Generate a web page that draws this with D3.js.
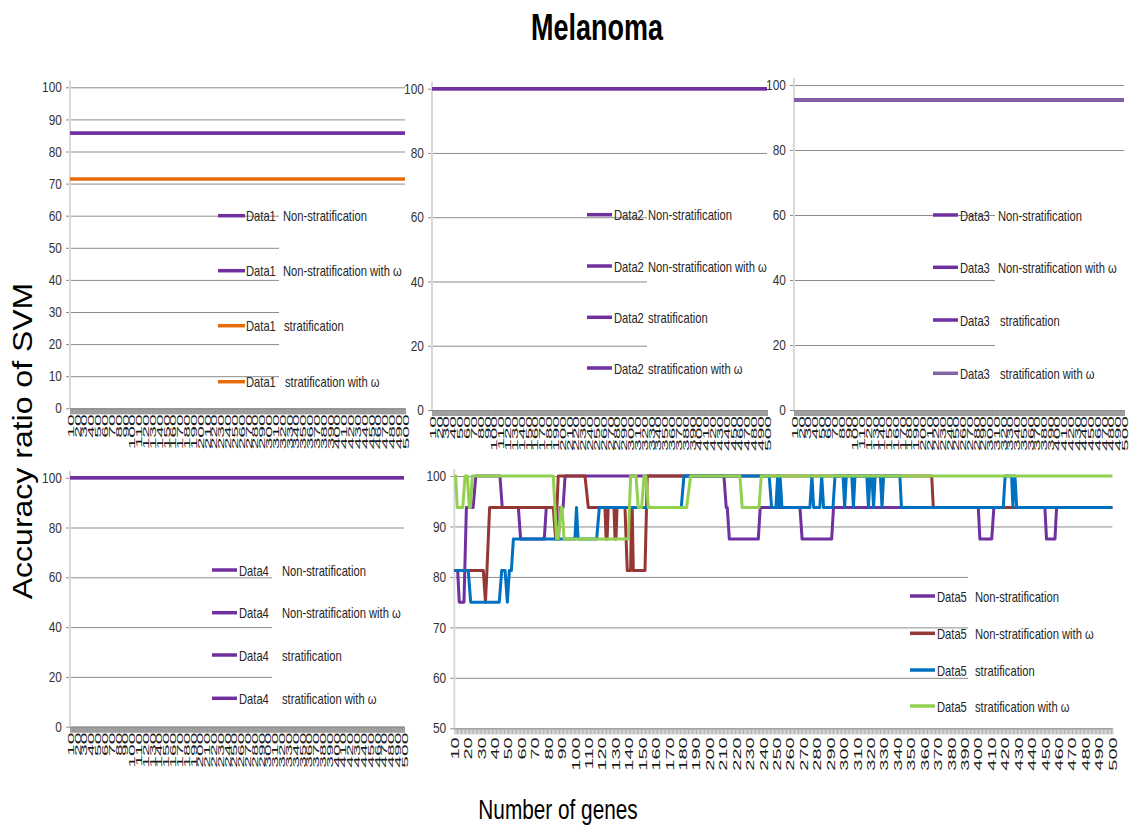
<!DOCTYPE html>
<html><head><meta charset="utf-8">
<script src="https://cdn.jsdelivr.net/npm/d3@7"></script>
<style>body{margin:0;background:#fff}svg{display:block}</style>
</head><body>
<svg id="c" width="1134" height="831"></svg>
<script>
// ---------------- DATA ----------------
const chartTitle = "Melanoma";
const xTitle = "Number of genes";
const yTitle = "Accuracy ratio of SVM";
const seriesNames = ["Non-stratification", "Non-stratification with ω", "stratification", "stratification with ω"];
const datasetNames = ["Data1", "Data2", "Data3", "Data4", "Data5"];
const geneCategories = d3.range(10, 501, 1);
const geneTickLabels = [10,20,30,40,50,60,70,80,90,100,110,120,130,140,150,160,170,180,190,200,
  210,220,230,240,250,260,270,280,290,300,310,320,330,340,350,360,370,380,390,400,
  410,420,430,440,450,460,470,480,490,500];
const yTicks10 = [0,10,20,30,40,50,60,70,80,90,100];
const yTicks20 = [0,20,40,60,80,100];
const yTicks5 = [50,60,70,80,90,100];

// constant accuracies for Data1-Data4 (one value per series)
const data1 = [85.71, 85.71, 71.43, 71.43];
const data2 = [100, 100, 100, 100];
const data3 = [95.45, 95.45, 95.45, 95.45];
const data4 = [100, 100, 100, 100];

// Data5: [genes, accuracy] read at change points
const data5NonStrat = [[10,81.25],[12.5,81.25],[13.7,75],[17.2,75],[19,93.75],[24,93.75],[26,100],[44,100],[45.7,93.75],[57.7,93.75],[59.4,87.5],[77,87.5],[78.5,93.75],[85,93.75],[86.3,87.5],[87.5,87.5],[89,93.75],[91,93.75],[92.5,100],[210.8,100],[212.5,93.75],[213.3,93.75],[214.8,87.5],[236.4,87.5],[237.8,93.75],[267.4,93.75],[269,87.5],[291,87.5],[292.4,93.75],[400.2,93.75],[401.4,87.5],[410.2,87.5],[411.8,93.75],[449.8,93.75],[451,87.5],[457.3,87.5],[458.5,93.75],[500,93.75]];
const data5NonStratW = [[10,81.25],[31.6,81.25],[33.2,75],[34.3,81.25],[36.3,93.75],[83.7,93.75],[85.5,87.5],[87.4,100],[107.3,100],[109.8,93.75],[122.2,93.75],[123,87.5],[123.8,87.5],[124.6,93.75],[128.9,93.75],[129.7,87.5],[130.4,87.5],[131.2,93.75],[137.1,93.75],[138.8,81.25],[141.3,81.25],[142,93.75],[142.5,93.75],[143.3,81.25],[152,81.25],[153.7,100],[365.5,100],[366.7,93.75],[500,93.75]];
const data5Strat = [[10,81.25],[20.4,81.25],[22.2,75],[43.5,75],[45.3,81.25],[47.8,81.25],[49.5,75],[51,81.25],[52.5,81.25],[54,87.5],[99.8,87.5],[101,93.75],[102.2,87.5],[116,87.5],[118,93.75],[179,93.75],[181,100],[244.5,100],[246.3,93.75],[249.5,93.75],[250.8,100],[251.8,93.75],[252.6,100],[254,93.75],[274.8,93.75],[276.3,100],[277.6,93.75],[282.2,93.75],[283.6,100],[285,93.75],[292,93.75],[293.5,100],[299.5,100],[300.7,93.75],[301.9,100],[306,100],[307.2,93.75],[308.4,100],[317.2,100],[318.4,93.75],[319.6,100],[321,100],[322.2,93.75],[323.4,100],[327.3,100],[328.5,93.75],[329.7,100],[341.8,100],[343,93.75],[418.8,93.75],[420.2,100],[425,100],[426,93.75],[426.8,100],[427.5,100],[428.8,93.75],[500,93.75]];
const data5StratW = [[10,100],[11,100],[12.2,93.75],[16.3,93.75],[18,100],[19.7,100],[21.2,93.75],[22,93.75],[23.4,100],[83.7,100],[86.2,87.5],[87.3,87.5],[89.5,93.75],[90.3,93.75],[91.7,87.5],[139.6,87.5],[141.3,100],[145.3,100],[147,93.75],[149.5,93.75],[151.3,100],[152.7,100],[154.5,93.75],[183,93.75],[186,100],[222.7,100],[224.4,93.75],[236.9,93.75],[238.6,100],[500,100]];

// ---------------- STYLE / LAYOUT ----------------
const PURPLE = "#7030A0", ORANGE = "#E46C0A", LPURPLE = "#8064A2",
      BROWN = "#953735", BLUE = "#0070C0", GREEN = "#92D050";
const FONT = "'Liberation Sans', Arial, sans-serif";

const panels = [
  {ds:0, x0:70, x1:405, yt:87.3, yb:408.3, ymin:0, ticks:yTicks10, colors:[PURPLE,PURPLE,ORANGE,ORANGE],
   blank:{x:279, v0:65, v1:5}, labSize:21, labSx:0.45, labOff:6, tickCol:"#8a8a8a",
   leg:{m0:218, m1:245, dx:246, lx:[283,283,284,285], rows:[215.7,270.7,325.7,381.7]}},
  {ds:1, x0:432, x1:767, yt:88.7, yb:410, ymin:0, ticks:yTicks20, colors:[PURPLE,PURPLE,PURPLE,PURPLE],
   blank:{x:647, v0:65, v1:5}, labSize:21, labSx:0.45, labOff:6, tickCol:"#8a8a8a",
   leg:{m0:587, m1:612, dx:614, lx:[648,648,648,648], rows:[214.7,266,317.3,368]}},
  {ds:2, x0:794, x1:1124, yt:85, yb:410, ymin:0, ticks:yTicks20, colors:[PURPLE,PURPLE,PURPLE,LPURPLE],
   blank:{x:995, v0:65, v1:5}, labSize:21, labSx:0.45, labOff:6, tickCol:"#8a8a8a",
   leg:{m0:933, m1:958, dx:960, lx:[998,998,1000,1000], rows:[215,267.3,320,373.3]}},
  {ds:3, x0:70, x1:404, yt:477.7, yb:726.7, ymin:0, ticks:yTicks20, colors:[PURPLE,PURPLE,PURPLE,PURPLE],
   blank:{x:272, v0:70, v1:5}, labSize:21, labSx:0.45, labOff:6, tickCol:"#8a8a8a",
   leg:{m0:212, m1:237, dx:239, lx:[282,282,282,282], rows:[570,612.7,655,698.3]}},
  {ds:4, x0:454.3, x1:1112.3, yt:476, yb:728.3, ymin:50, ticks:yTicks5, colors:[PURPLE,BROWN,BLUE,GREEN],
   blank:{x:968, v0:85, v1:55}, labSize:20, labSx:0.56, labOff:9, tickCol:"#a0a0a0",
   leg:{m0:910, m1:935, dx:937, lx:[975,975,975,975], rows:[596,633.3,670,706]}}
];
const constData = [data1, data2, data3, data4];
const data5 = [data5NonStrat, data5NonStratW, data5Strat, data5StratW];

const svg = d3.select("#c");
svg.append("rect").attr("width",1134).attr("height",831).attr("fill","#fff");

function sText(g, x, y, s, size, sx, opts={}) {
  return g.append("text")
    .attr("transform", `translate(${x},${y}) scale(${sx},1)`)
    .attr("font-family", FONT).attr("font-size", size)
    .attr("font-weight", opts.bold ? "bold" : "normal")
    .attr("text-anchor", opts.anchor || "start")
    .attr("fill", opts.fill || "#262626")
    .text(s);
}

panels.forEach(p => {
  const g = svg.append("g");
  const x = d3.scaleLinear().domain([10, 500]).range([p.x0, p.x1]);
  const y = d3.scaleLinear().domain([p.ymin, 100]).range([p.yb, p.yt]);

  // gridlines + y labels
  const ya = g.append("g").attr("transform", `translate(${p.x0 - 4},0)`)
    .call(d3.axisLeft(y).tickValues(p.ticks).tickSize(-(p.x1 - p.x0 + 4)).tickPadding(5));
  ya.select(".domain").remove();
  ya.selectAll(".tick line").attr("stroke", "#8c8c8c").attr("stroke-width", 1);
  ya.selectAll(".tick text").attr("font-family", FONT).attr("font-size", 14.5)
    .attr("fill", "#333").attr("transform", "scale(0.82,1)");

  // legend background blanks gridlines
  g.append("rect").attr("x", p.blank.x).attr("y", y(p.blank.v0))
    .attr("width", p.x1 + 3 - p.blank.x).attr("height", y(p.blank.v1) - y(p.blank.v0))
    .attr("fill", "#fff");

  // y axis line
  g.append("line").attr("x1", p.x0).attr("x2", p.x0).attr("y1", p.yb).attr("y2", p.yt - 7)
    .attr("stroke", "#d9d9d9").attr("stroke-width", 2);

  // x axis: dense category ticks
  const xa = g.append("g").attr("transform", `translate(0,${p.yb})`)
    .call(d3.axisBottom(x).tickValues(geneCategories).tickSize(6).tickSizeOuter(0).tickFormat(""));
  xa.select(".domain").attr("stroke", "#a6a6a6");
  xa.selectAll(".tick line").attr("stroke", p.tickCol).attr("stroke-width", 0.8);

  // x labels
  const xl = g.append("g").attr("transform", `translate(0,${p.yb + p.labOff})`)
    .call(d3.axisBottom(x).tickValues(geneTickLabels).tickSize(0).tickFormat(d3.format("d")));
  xl.select(".domain").remove();
  xl.selectAll(".tick text")
    .attr("y", null).attr("x", 0).attr("dy", "0.35em")
    .attr("text-anchor", "end")
    .attr("transform", `scale(${p.labSx},1) rotate(-90)`)
    .attr("font-family", FONT).attr("font-size", p.labSize).attr("fill", "#1a1a1a");

  // series
  const line = d3.line().x(d => x(d[0])).y(d => y(d[1]));
  seriesNames.forEach((s, i) => {
    const pts = p.ds < 4 ? [[10, constData[p.ds][i]], [500, constData[p.ds][i]]] : data5[i];
    g.append("path").datum(pts).attr("d", line)
      .attr("fill", "none").attr("stroke", p.colors[i])
      .attr("stroke-width", p.ds < 4 ? 3.2 : 3).attr("stroke-linejoin", "round");
  });

  // legend
  seriesNames.forEach((s, i) => {
    const ry = p.leg.rows[i];
    g.append("line").attr("x1", p.leg.m0).attr("x2", p.leg.m1).attr("y1", ry).attr("y2", ry)
      .attr("stroke", p.colors[i]).attr("stroke-width", 3.5);
    sText(g, p.leg.dx, ry + 5.5, datasetNames[p.ds], 14, 0.8);
    sText(g, p.leg.lx[i], ry + 5.5, s, 14, 0.8);
  });
});

// titles
sText(svg, 597, 40, chartTitle, 36, 0.75, {bold:true, anchor:"middle", fill:"#000"});
sText(svg, 558, 819, xTitle, 27, 0.77, {anchor:"middle", fill:"#000"});
svg.append("text")
  .attr("transform", "translate(32,441) scale(0.85,1) rotate(-90)")
  .attr("font-family", FONT).attr("font-size", 32).attr("text-anchor", "middle")
  .attr("fill", "#000").text(yTitle);
</script>
</body></html>
